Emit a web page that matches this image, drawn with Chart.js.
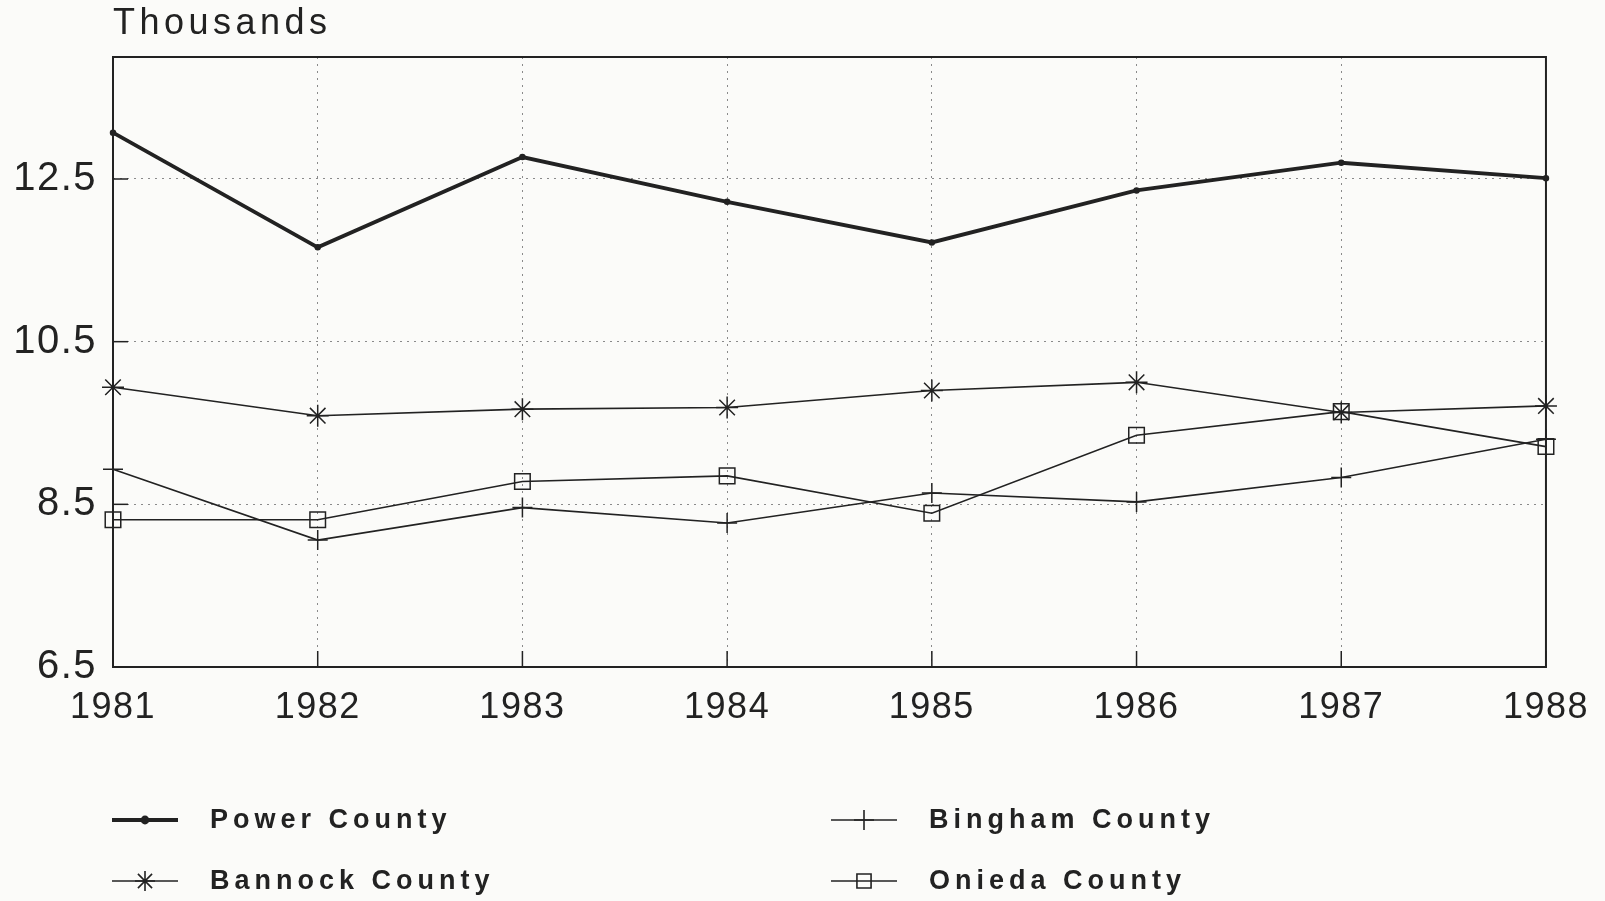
<!DOCTYPE html>
<html>
<head>
<meta charset="utf-8">
<script src="https://cdn.jsdelivr.net/npm/chart.js@4/dist/chart.umd.min.js"></script>
<style>
  html, body { margin: 0; padding: 0; background: #fbfbf9; }
  canvas { display: block; }
</style>
</head>
<body>
<canvas id="grafico" width="1605" height="901"></canvas>
<script>
// dados (milhares)
const anos = ['1981', '1982', '1983', '1984', '1985', '1986', '1987', '1988'];
const powerCounty   = [13.07, 11.66, 12.77, 12.22, 11.72, 12.36, 12.70, 12.51];
const bannockCounty = [9.94, 9.59, 9.67, 9.69, 9.90, 10.00, 9.63, 9.71];
const binghamCounty = [8.93, 8.06, 8.46, 8.27, 8.64, 8.53, 8.83, 9.30];
const oniedaCounty  = [8.31, 8.31, 8.78, 8.85, 8.39, 9.35, 9.64, 9.21];
const yTicks = [6.5, 8.5, 10.5, 12.5];
const nomes = ['Power County', 'Bannock County', 'Bingham County', 'Onieda County'];

const TINTA = '#222222';
const FONTE = '"Liberation Sans", Arial, sans-serif';

const moldura = {
  id: 'moldura',
  beforeDraw(chart) {
    const ctx = chart.ctx;
    ctx.save();
    ctx.fillStyle = '#fbfbf9';
    ctx.fillRect(0, 0, chart.width, chart.height);
    ctx.restore();
    ctx.letterSpacing = '1.5px';
  },
  afterDraw(chart) {
    const { ctx, chartArea: a, scales: { x, y } } = chart;
    ctx.save();
    ctx.strokeStyle = TINTA;
    ctx.lineWidth = 2;
    ctx.strokeRect(a.left, a.top, a.right - a.left, a.bottom - a.top);

    // tracinhos dos eixos
    ctx.lineWidth = 1.5;
    anos.forEach((_, i) => {
      const px = x.getPixelForValue(i);
      ctx.beginPath(); ctx.moveTo(px, a.bottom); ctx.lineTo(px, a.bottom - 16); ctx.stroke();
    });
    yTicks.forEach(v => {
      const py = y.getPixelForValue(v);
      ctx.beginPath(); ctx.moveTo(a.left, py); ctx.lineTo(a.left + 15, py); ctx.stroke();
    });

    // titulo do eixo
    ctx.fillStyle = TINTA;
    ctx.font = '36px ' + FONTE;
    ctx.letterSpacing = '4.5px';
    ctx.textBaseline = 'middle';
    ctx.textAlign = 'left';
    ctx.fillText('Thousands', a.left, 24);

    // legenda em duas colunas
    const posicoes = [[112, 820], [112, 881], [831, 820], [831, 881]];
    ctx.font = 'bold 27px ' + FONTE;
    ctx.letterSpacing = '5px';
    chart.data.datasets.forEach((ds, i) => {
      const [lx, ly] = posicoes[i];
      ctx.strokeStyle = ds.borderColor;
      ctx.lineWidth = ds.borderWidth;
      ctx.setLineDash([]);
      ctx.beginPath(); ctx.moveTo(lx, ly); ctx.lineTo(lx + 66, ly); ctx.stroke();
      ctx.fillStyle = ds.pointBackgroundColor;
      Chart.helpers.drawPoint(ctx, {
        pointStyle: ds.pointStyle,
        radius: ds.pointStyle === 'circle' ? ds.pointRadius : 10,
        borderWidth: 1.5,
        rotation: 0
      }, lx + 33, ly);
      ctx.fillStyle = TINTA;
      ctx.fillText(ds.label, lx + 98, ly + 1);
    });
    ctx.restore();
  }
};

function serie(label, dados, opts) {
  return Object.assign({
    label: label,
    data: dados,
    borderColor: TINTA,
    backgroundColor: 'rgba(0,0,0,0)',
    pointBorderColor: TINTA,
    pointBackgroundColor: 'rgba(0,0,0,0)',
    pointBorderWidth: 1.5,
    tension: 0,
    fill: false
  }, opts);
}

const ctx = document.getElementById('grafico').getContext('2d');
new Chart(ctx, {
  type: 'line',
  data: {
    labels: anos,
    datasets: [
      serie(nomes[0], powerCounty,   { borderWidth: 3.8, pointStyle: 'circle', pointRadius: 2.5, pointBackgroundColor: TINTA }),
      serie(nomes[1], bannockCounty, { borderWidth: 1.6, pointStyle: 'star',   pointRadius: 11 }),
      serie(nomes[2], binghamCounty, { borderWidth: 1.6, pointStyle: 'cross',  pointRadius: 10 }),
      serie(nomes[3], oniedaCounty,  { borderWidth: 1.6, pointStyle: 'rect',   pointRadius: 11 })
    ]
  },
  options: {
    responsive: false,
    animation: false,
    devicePixelRatio: 1,
    layout: { padding: { top: 57, right: 59, left: 0, bottom: 0 } },
    plugins: {
      legend: { display: false },
      tooltip: { enabled: false }
    },
    scales: {
      x: {
        offset: false,
        grid: { color: '#8a8a8a', lineWidth: 1, drawTicks: false },
        border: { display: false, dash: [2, 5] },
        ticks: { color: TINTA, font: { family: FONTE, size: 36 }, padding: 19, maxRotation: 0, autoSkip: false },
        afterFit(scale) { scale.height = 234; }
      },
      y: {
        min: 6.5,
        max: 14,
        grid: { color: '#8a8a8a', lineWidth: 1, drawTicks: false },
        border: { display: false, dash: [2, 5] },
        ticks: { color: TINTA, font: { family: FONTE, size: 40 }, padding: 16 },
        afterBuildTicks(scale) { scale.ticks = yTicks.map(v => ({ value: v })); },
        afterFit(scale) { scale.width = 113; }
      }
    }
  },
  plugins: [moldura]
});
</script>
</body>
</html>
